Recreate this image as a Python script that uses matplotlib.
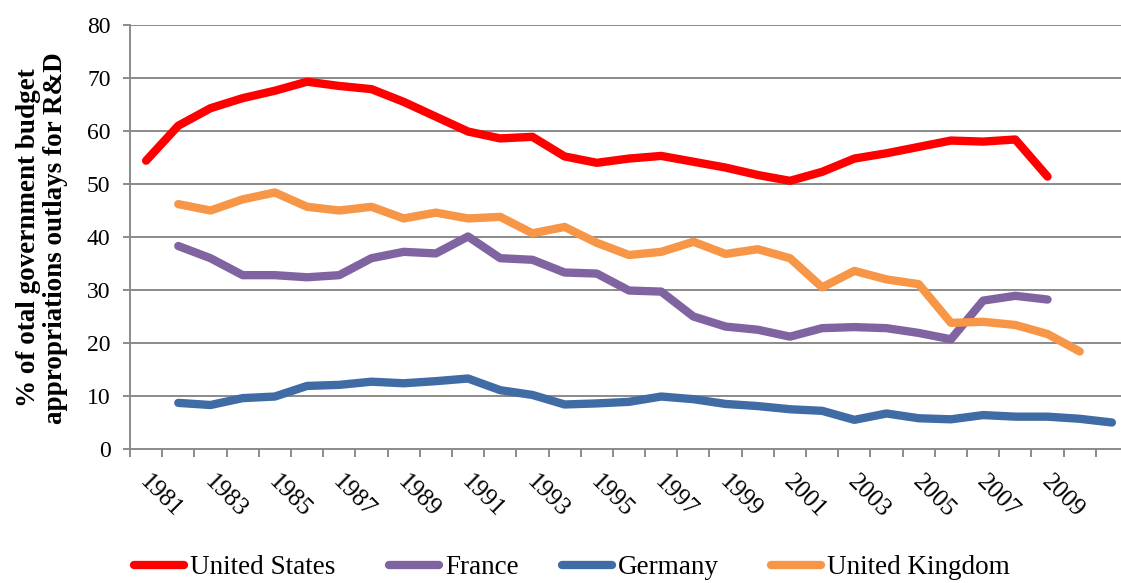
import numpy as np
import matplotlib
matplotlib.use("Agg")
import matplotlib.pyplot as plt
import matplotlib.transforms as mtransforms

nan = np.nan
years = list(range(1981, 2012))
us = [54.4, 61.0, 64.3, 66.2, 67.6, 69.3, 68.5, 67.9, 65.5, 62.7,
      59.9, 58.6, 58.9, 55.2, 54.0, 54.8, 55.3, 54.2, 53.1, 51.7,
      50.6, 52.3, 54.8, 55.8, 57.0, 58.2, 58.0, 58.4, 51.4, nan, nan]
france = [nan, 38.3, 36.0, 32.8, 32.8, 32.4, 32.8, 36.0, 37.2, 36.9,
          40.1, 36.0, 35.7, 33.3, 33.1, 29.9, 29.7, 25.0, 23.1, 22.5,
          21.2, 22.8, 23.0, 22.8, 21.9, 20.7, 28.0, 28.9, 28.2, nan, nan]
germany = [nan, 8.7, 8.3, 9.6, 9.9, 11.9, 12.1, 12.7, 12.4, 12.8,
           13.3, 11.1, 10.2, 8.4, 8.6, 8.9, 9.9, 9.4, 8.5, 8.1,
           7.5, 7.2, 5.5, 6.7, 5.8, 5.6, 6.4, 6.1, 6.1, 5.7, 5.0]
uk = [nan, 46.2, 45.0, 47.1, 48.4, 45.7, 45.0, 45.7, 43.5, 44.6,
      43.5, 43.8, 40.7, 41.9, 38.9, 36.6, 37.2, 39.1, 36.8, 37.7,
      36.0, 30.5, 33.6, 32.0, 31.1, 23.8, 24.0, 23.4, 21.7, 18.4, nan]
series_names = ["United States", "France", "Germany", "United Kingdom"]
series_data = [us, france, germany, uk]
series_colors = ["#FF0000", "#8064A2", "#3F6CA4", "#F79646"]
yticks = [0, 10, 20, 30, 40, 50, 60, 70, 80]
ylabel = "% of otal government budget\nappropriations outlays for R&D"

SERIF = ["Liberation Serif", "DejaVu Serif"]
plt.rcParams["font.family"] = SERIF

W, H = 1121, 583
fig = plt.figure(figsize=(W / 100, H / 100), dpi=100)
x0, x1, ytop, ybot = 130, 1128, 25, 449
ax = fig.add_axes([x0 / W, 1 - ybot / H, (x1 - x0) / W, (ybot - ytop) / H])

xs = np.arange(len(years))
handles = []
for name, vals, col in zip(series_names, series_data, series_colors):
    ln, = ax.plot(xs, np.array(vals, dtype=float), color=col, lw=6.0,
                  solid_capstyle="round", solid_joinstyle="round", label=name,
                  clip_on=False, zorder=3)
    handles.append(ln)

grid_col = "#8a8a8a"
ax.set_ylim(0, 80)
ax.set_xlim(-0.5, len(years) - 0.5)
ax.set_yticks(yticks)
ax.set_yticklabels([str(v) for v in yticks])
for v in yticks[1:]:
    ax.axhline(v, color=grid_col, lw=1.4, zorder=1)

for s in ["top", "right"]:
    ax.spines[s].set_visible(False)
for s in ["left", "bottom"]:
    ax.spines[s].set_color(grid_col)
    ax.spines[s].set_linewidth(1.4)

ax.tick_params(axis="y", direction="out", length=5, width=1.4, color=grid_col,
               labelsize=17, pad=9)
# category boundary ticks
ax.set_xticks(np.arange(-0.5, len(years) + 0.5, 1.0), minor=True)
ax.tick_params(axis="x", which="minor", direction="out", length=6, width=1.4,
               color=grid_col)
lab_idx = list(range(0, len(years) - 1, 2))
ax.set_xticks(lab_idx)
ax.set_xticklabels([str(years[i]) for i in lab_idx], rotation=-45,
                   ha="left", va="top", rotation_mode="anchor")
ax.tick_params(axis="x", which="major", length=0, labelsize=18, pad=16)
off = mtransforms.ScaledTranslation(5 / 100, 0, fig.dpi_scale_trans)
for lab in ax.get_xticklabels():
    lab.set_transform(lab.get_transform() + off)

fig.text(42 / W, 1 - 238 / H, ylabel, rotation=90, ha="center", va="center",
         multialignment="center", fontsize=19.5, fontweight="bold",
         linespacing=1.08)

leg_x = [134, 389, 562, 771]
for h, name, lx in zip(handles, series_names, leg_x):
    leg = fig.legend(handles=[h], labels=[name], loc="center left",
                     bbox_to_anchor=(lx / W, 1 - 568 / H), frameon=False,
                     fontsize=19.5, handlelength=1.85, handletextpad=0.22,
                     borderaxespad=0, borderpad=0)
    for lh in leg.get_lines():
        lh.set_linewidth(6.0)
        lh.set_solid_capstyle("round")

fig.savefig("out.png", dpi=100)
